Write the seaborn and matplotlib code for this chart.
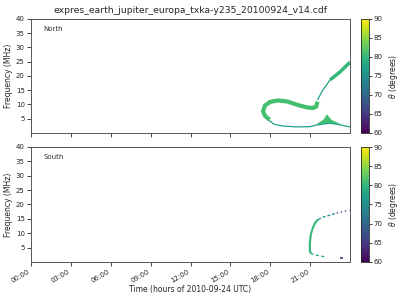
import numpy as np
import pandas as pd
import matplotlib
matplotlib.use("Agg")
import matplotlib.pyplot as plt
import seaborn as sns

sns.set_style("ticks")

title = "expres_earth_jupiter_europa_txka-y235_20100924_v14.cdf"
xtick_hours = [0, 3, 6, 9, 12, 15, 18, 21]
xtick_labels = ["00:00", "03:00", "06:00", "09:00", "12:00", "15:00", "18:00", "21:00"]
yticks = [5, 10, 15, 20, 25, 30, 35, 40]
cb_ticks = [60, 65, 70, 75, 80, 85, 90]

# North hemisphere curves (time in hours, frequency in MHz, theta in degrees)
north_loop_t = [17.95, 17.6, 17.46, 17.6, 18.0, 18.6, 19.3, 20.0, 20.7, 21.2, 21.45, 21.55]
north_loop_f = [4.6, 6.0, 7.6, 9.6, 10.9, 11.4, 11.0, 9.9, 9.0, 8.7, 9.2, 11.0]
north_loop_theta = 81

north_low_t = [17.9, 18.3, 19.0, 20.0, 21.0, 21.5, 22.5, 23.3, 24.0]
north_low_f = [4.4, 3.0, 2.4, 2.1, 2.2, 2.8, 3.4, 2.8, 2.1]
north_low_theta = 77

north_tri_t = [21.45, 22.0, 22.27, 22.6, 23.3, 22.5]
north_tri_f = [3.0, 4.6, 6.6, 4.6, 3.1, 3.4]
north_tri_theta = 81

north_rise_t = [21.55, 21.9, 22.2, 22.5]
north_rise_f = [11.5, 14.6, 16.6, 18.6]
north_rise_theta = 77

north_upper_t = [22.5, 23.25, 24.0]
north_upper_f = [18.6, 21.4, 24.8]
north_upper_theta = 80

# South hemisphere curves
south_main_t = [21.05, 20.98, 20.98, 21.05, 21.2, 21.4, 21.62]
south_main_f = [3.0, 3.8, 6.5, 9.5, 11.8, 13.8, 14.8]
south_main_theta = 80

south_teal_t = [21.62, 22.0, 22.5, 23.0]
south_teal_f = [14.8, 15.6, 16.3, 17.0]
south_teal_theta = 76

south_dark_t = [23.0, 23.5, 23.95]
south_dark_f = [17.0, 17.5, 18.1]
south_dark_theta = 67

south_low_t = [21.05, 21.37, 21.75, 22.25]
south_low_f = [3.0, 2.4, 2.1, 1.6]
south_low_theta = 77

south_dash_t = [23.25, 23.45]
south_dash_f = [1.3, 1.3]
south_dash_theta = 64

cmap = plt.get_cmap("viridis")
norm = matplotlib.colors.Normalize(vmin=60, vmax=90)

fig = plt.figure(figsize=(4, 3), dpi=100)
ax1 = fig.add_axes([0.0775, 0.557, 0.7975, 0.38])
ax2 = fig.add_axes([0.0775, 0.127, 0.7975, 0.383])
cax1 = fig.add_axes([0.9025, 0.557, 0.02, 0.38])
cax2 = fig.add_axes([0.9025, 0.127, 0.02, 0.383])


def seg(ax, t, f, theta, lw, ls="-"):
    df = pd.DataFrame({"t": t, "f": f})
    sns.lineplot(data=df, x="t", y="f", ax=ax, sort=False, estimator=None,
                 color=cmap(norm(theta)), linewidth=lw, linestyle=ls,
                 solid_capstyle="butt", legend=False)


seg(ax1, north_low_t, north_low_f, north_low_theta, 0.9)
seg(ax1, north_loop_t, north_loop_f, north_loop_theta, 3.0)
seg(ax1, north_rise_t, north_rise_f, north_rise_theta, 0.9)
seg(ax1, north_upper_t, north_upper_f, north_upper_theta, 2.5)
ax1.fill(north_tri_t, north_tri_f, color=cmap(norm(north_tri_theta)), lw=0)

seg(ax2, south_main_t, south_main_f, south_main_theta, 1.5)
seg(ax2, south_teal_t, south_teal_f, south_teal_theta, 1.0, (0, (2, 1.5)))
seg(ax2, south_dark_t, south_dark_f, south_dark_theta, 1.0, (0, (1, 2)))
seg(ax2, south_low_t, south_low_f, south_low_theta, 1.0, (0, (2, 2)))
seg(ax2, south_dash_t, south_dash_f, south_dash_theta, 1.2)

for ax, name in [(ax1, "North"), (ax2, "South")]:
    ax.set_xlim(0, 24)
    ax.set_ylim(0, 40)
    ax.set_yticks(yticks)
    ax.set_xticks(xtick_hours)
    ax.tick_params(labelsize=5, length=3, width=0.6, pad=1.5)
    ax.set_ylabel("Frequency (MHz)", fontsize=5.5, labelpad=2)
    ax.set_xlabel("")
    ax.text(0.038, 0.91, name, transform=ax.transAxes, fontsize=5,
            ha="left", va="center", color="#333333")
    for s in ax.spines.values():
        s.set_linewidth(0.7)
        s.set_color("#555555")

ax1.set_xticklabels([])
ax2.set_xticklabels(xtick_labels, rotation=30, ha="right")
ax2.set_xlabel("Time (hours of 2010-09-24 UTC)", fontsize=5.5, labelpad=1)
ax1.set_title(title, fontsize=6.7, pad=4)

sm = matplotlib.cm.ScalarMappable(norm=norm, cmap=cmap)
for cax in (cax1, cax2):
    cb = fig.colorbar(sm, cax=cax, ticks=cb_ticks)
    cb.set_label(r"$\theta$ (degrees)", fontsize=5.5, labelpad=3)
    cb.ax.tick_params(labelsize=5, length=2, width=0.6, pad=1.5)
    cb.outline.set_linewidth(0.6)

fig.savefig("out.png", dpi=100)
